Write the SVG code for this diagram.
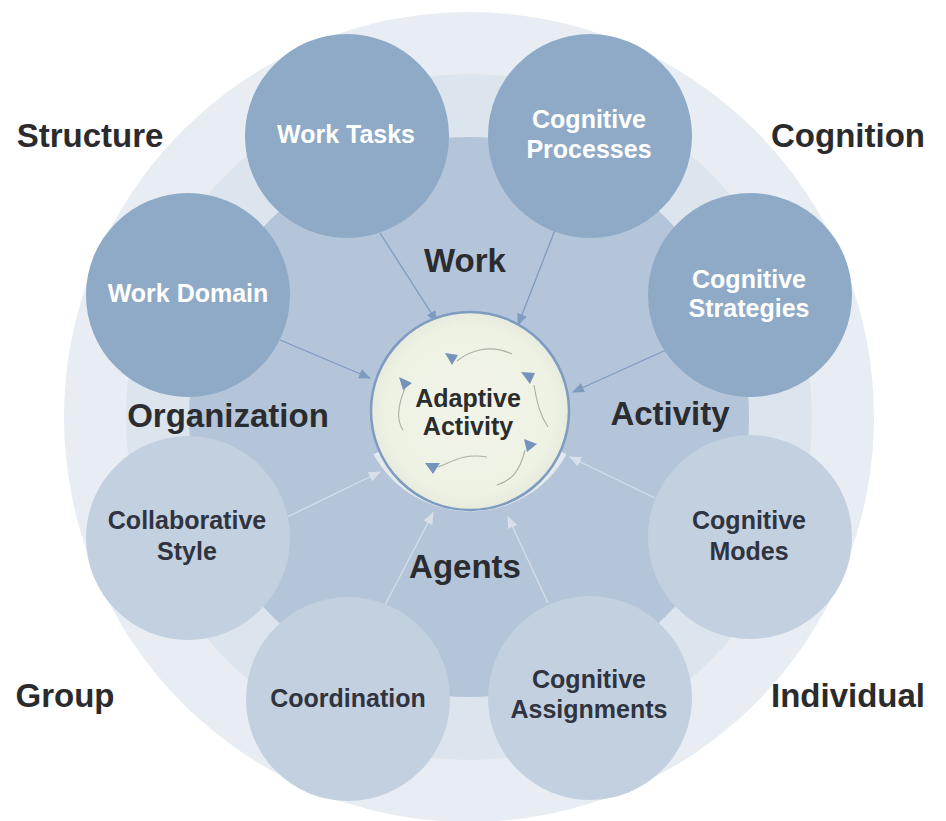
<svg xmlns="http://www.w3.org/2000/svg" width="946" height="821" viewBox="0 0 946 821">
<style>
text{font-family:"Liberation Sans",Arial,sans-serif;font-weight:bold;text-anchor:middle}
.lbl{font-size:33px;fill:#2b2b2d}
.sec{font-size:33px;fill:#2b2c30}
.nt{font-size:25px;fill:#ffffff}
.nb{font-size:25px;fill:#2f3440}
.dark{fill:#8eaac7}
.light{fill:#c3d0df}
.cdark{stroke:#7e9bc0;stroke-width:1.3;fill:none}
.clight{stroke:#d6dee9;stroke-width:1.3;fill:none}
.swirl{stroke:#a8b2a6;stroke-width:1.1;fill:none}
.tri{fill:#7593bb}
</style>
<defs>
<marker id="ahd" viewBox="0 0 12 10" refX="11" refY="5" markerWidth="12" markerHeight="10" markerUnits="userSpaceOnUse" orient="auto">
<path d="M0,0 L12,5 L0,10 Z" fill="#7e9bc0"/>
</marker>
<marker id="ahl" viewBox="0 0 12 10" refX="11" refY="5" markerWidth="12" markerHeight="10" markerUnits="userSpaceOnUse" orient="auto">
<path d="M0,0 L12,5 L0,10 Z" fill="#d9e0ea"/>
</marker>
<radialGradient id="cg" cx="0.5" cy="0.5" r="0.5">
<stop offset="0" stop-color="#f1f4e8"/>
<stop offset="0.85" stop-color="#eef2e3"/>
<stop offset="1" stop-color="#e6ebde"/>
</radialGradient>
</defs>
<rect width="946" height="821" fill="#ffffff"/>
<g id="background">
<circle cx="469" cy="417" r="405" fill="#e8edf3"/>
<circle cx="469" cy="417" r="343" fill="#dce4ed"/>
<circle cx="469" cy="417" r="280" fill="#b4c5da"/>
</g>
<g id="corner-labels">
<text class="lbl" x="90" y="147">Structure</text>
<text class="lbl" x="848" y="147">Cognition</text>
<text class="lbl" x="65" y="707">Group</text>
<text class="lbl" x="848" y="707">Individual</text>
</g>
<g id="section-labels">
<text class="sec" x="465" y="272">Work</text>
<text class="sec" x="228" y="427">Organization</text>
<text class="sec" x="670" y="425">Activity</text>
<text class="sec" x="465" y="578">Agents</text>
</g>
<g id="connectors">
<line class="cdark" x1="380" y1="233" x2="437" y2="322" marker-end="url(#ahd)"/>
<line class="cdark" x1="555" y1="230" x2="518" y2="325" marker-end="url(#ahd)"/>
<line class="cdark" x1="280" y1="340" x2="370" y2="378" marker-end="url(#ahd)"/>
<line class="cdark" x1="666" y1="350" x2="573" y2="392" marker-end="url(#ahd)"/>
<line class="clight" x1="287" y1="517" x2="380" y2="472" marker-end="url(#ahl)"/>
<line class="clight" x1="655" y1="498" x2="570" y2="457" marker-end="url(#ahl)"/>
<line class="clight" x1="385" y1="605" x2="433" y2="513" marker-end="url(#ahl)"/>
<line class="clight" x1="548" y1="603" x2="508" y2="517" marker-end="url(#ahl)"/>
</g>
<g id="work-tasks">
<circle class="dark" cx="347" cy="136" r="102"/>
<text class="nt" x="346" y="143">Work Tasks</text>
</g>
<g id="cognitive-processes">
<circle class="dark" cx="590" cy="136" r="102"/>
<text class="nt" x="589" y="128">Cognitive</text>
<text class="nt" x="589" y="158">Processes</text>
</g>
<g id="work-domain">
<circle class="dark" cx="188" cy="295" r="102"/>
<text class="nt" x="188" y="302">Work Domain</text>
</g>
<g id="cognitive-strategies">
<circle class="dark" cx="750" cy="295" r="102"/>
<text class="nt" x="749" y="288">Cognitive</text>
<text class="nt" x="749" y="317">Strategies</text>
</g>
<g id="collaborative-style">
<circle class="light" cx="188" cy="538" r="102"/>
<text class="nb" x="187" y="529">Collaborative</text>
<text class="nb" x="187" y="560">Style</text>
</g>
<g id="cognitive-modes">
<circle class="light" cx="750" cy="537" r="102"/>
<text class="nb" x="749" y="529">Cognitive</text>
<text class="nb" x="749" y="560">Modes</text>
</g>
<g id="coordination">
<circle class="light" cx="348" cy="699" r="102"/>
<text class="nb" x="348" y="707">Coordination</text>
</g>
<g id="cognitive-assignments">
<circle class="light" cx="590" cy="698" r="102"/>
<text class="nb" x="589" y="688">Cognitive</text>
<text class="nb" x="589" y="718">Assignments</text>
</g>
<g id="adaptive-activity">
<path d="M 378 452 A 105 105 0 0 0 562 452" fill="none" stroke="#e9ecf0" stroke-width="10" opacity="0.9"/>
<circle cx="470" cy="411" r="99" fill="url(#cg)" stroke="#7e9bc0" stroke-width="2.5"/>
<path class="swirl" d="M457 361 C468 352 488 343 512 354"/>
<path class="swirl" d="M534 385 C537 403 540 415 548 427"/>
<path class="swirl" d="M405 388 C398 405 396 420 403 430"/>
<path class="swirl" d="M525 450 C520 470 513 480 497 485"/>
<path class="swirl" d="M438 467 C452 462 462 453 487 457"/>
<polygon class="tri" points="445,353 458,355 452,365"/>
<polygon class="tri" points="521,372 535,373 530,384"/>
<polygon class="tri" points="399,377 412,383 403,390"/>
<polygon class="tri" points="524,439 537,444 527,452"/>
<polygon class="tri" points="425,463 440,463 433,474"/>
<text class="nb" x="468" y="407" style="fill:#2a2c2e">Adaptive</text>
<text class="nb" x="468" y="435" style="fill:#2a2c2e">Activity</text>
</g>
</svg>
